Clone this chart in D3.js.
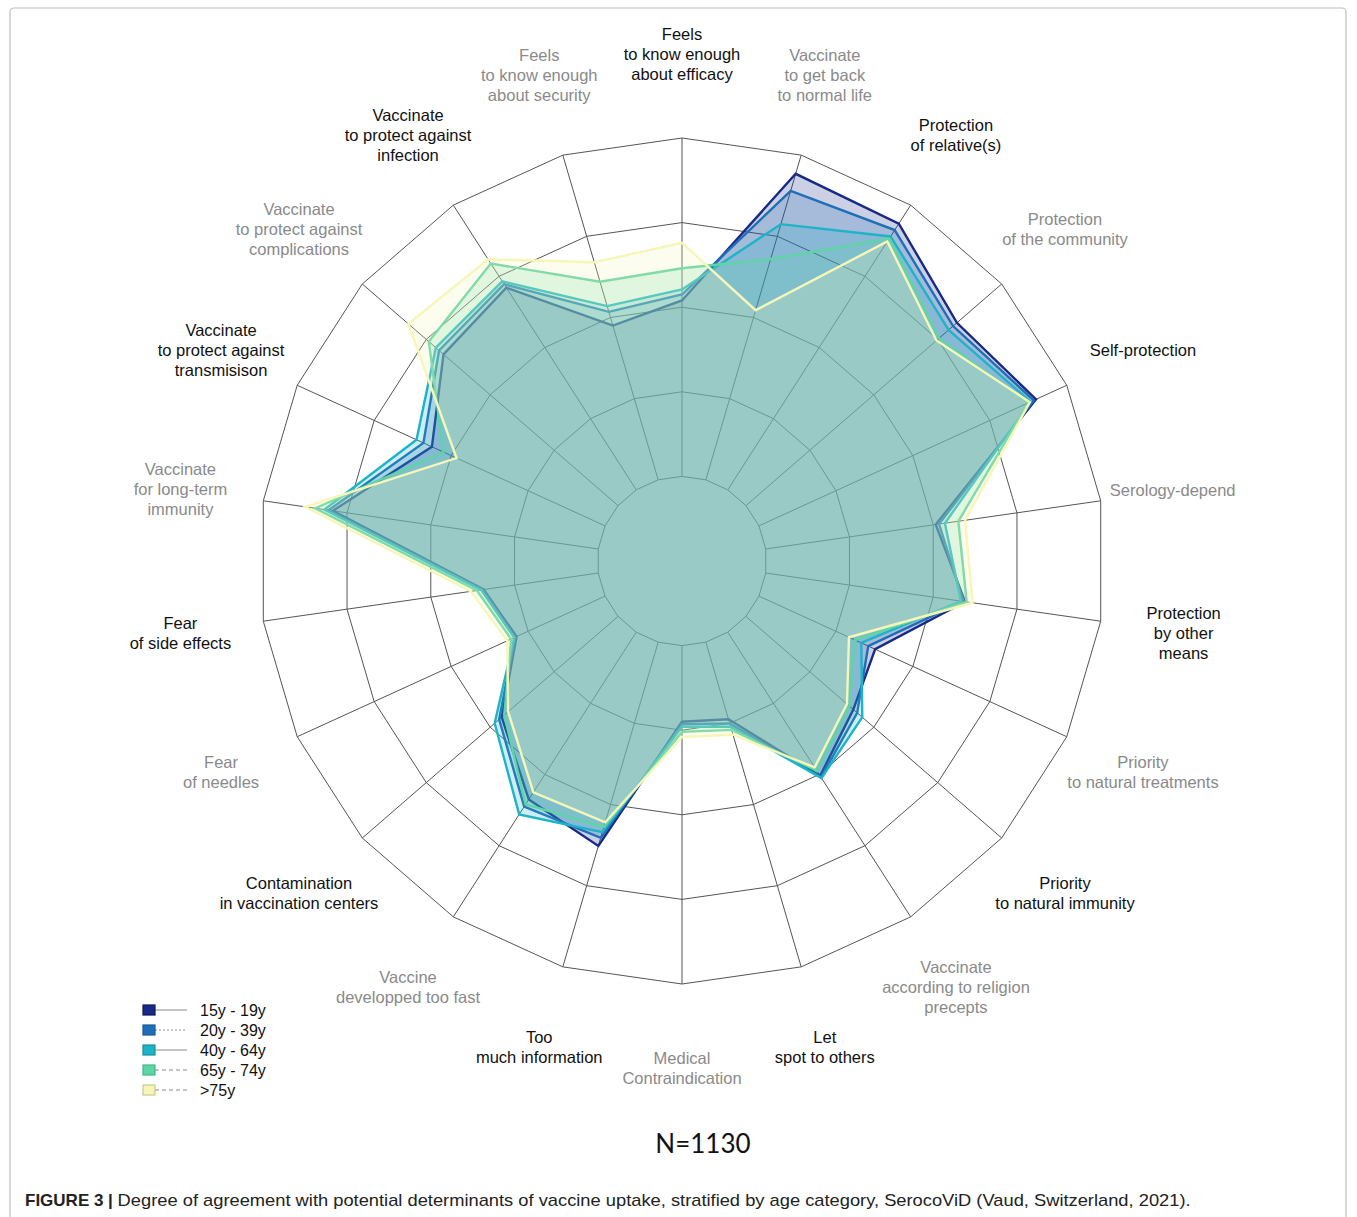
<!DOCTYPE html>
<html lang="en">
<head>
<meta charset="utf-8">
<title>Vaccine uptake determinants by age</title>
<script src="https://d3js.org/d3.v7.min.js"></script>
<style>
  body { margin: 0; background: #fff; }
  svg { display: block; }
  text { font-family: "Liberation Sans", Arial, sans-serif; }
</style>
</head>
<body>
<script>
// axis labels, clockwise from the top
var axes = [
  ["Feels", "to know enough", "about efficacy"],
  ["Vaccinate", "to get back", "to normal life"],
  ["Protection", "of relative(s)"],
  ["Protection", "of the community"],
  ["Self-protection"],
  ["Serology-depend"],
  ["Protection", "by other", "means"],
  ["Priority", "to natural treatments"],
  ["Priority", "to natural immunity"],
  ["Vaccinate", "according to religion", "precepts"],
  ["Let", "spot to others"],
  ["Medical", "Contraindication"],
  ["Too", "much information"],
  ["Vaccine", "developped too fast"],
  ["Contamination", "in vaccination centers"],
  ["Fear", "of needles"],
  ["Fear", "of side effects"],
  ["Vaccinate", "for long-term", "immunity"],
  ["Vaccinate", "to protect against", "transmisison"],
  ["Vaccinate", "to protect against", "complications"],
  ["Vaccinate", "to protect against", "infection"],
  ["Feels", "to know enough", "about security"]
];

var groups = ["15y - 19y", "20y - 39y", "40y - 64y", "65y - 74y", ">75y"];
var colors = ["#182a86", "#1f6fb8", "#1fb3c8", "#5fd4a4", "#f6f6b8"];

// degree of agreement per axis (same order as axes)
var age15 = [3.08, 4.77, 4.74, 4.30, 4.60, 3.03, 3.38, 2.51, 2.68, 3.02, 1.95, 1.90, 3.51, 3.35, 2.82, 2.15, 2.37, 4.17, 3.25, 3.73, 3.84, 2.90];
var age20 = [3.15, 4.56, 4.65, 4.24, 4.57, 3.07, 3.36, 2.42, 2.74, 3.04, 2.00, 1.93, 3.41, 3.45, 2.86, 2.17, 2.38, 4.22, 3.36, 3.80, 3.89, 3.07];
var age40 = [3.21, 4.15, 4.56, 4.17, 4.53, 3.14, 3.33, 2.33, 2.82, 3.05, 2.04, 1.96, 3.34, 3.56, 2.93, 2.18, 2.40, 4.27, 3.45, 3.85, 3.93, 3.14];
var age65 = [3.46, 3.72, 4.53, 4.02, 4.50, 3.30, 3.40, 2.25, 2.62, 2.95, 2.08, 2.02, 3.28, 3.42, 2.78, 2.22, 2.45, 4.38, 3.10, 3.96, 4.18, 3.44];
var age75 = [3.76, 3.09, 4.49, 3.98, 4.52, 3.38, 3.47, 2.17, 2.58, 2.90, 2.14, 2.08, 3.22, 3.25, 2.72, 2.27, 2.52, 4.50, 2.93, 4.28, 4.24, 3.68];
var series = [age15, age20, age40, age65, age75];

var levels = [1, 2, 3, 4, 5];

var width = 1357, height = 1217;
var cx = 682, cy = 561;

var svg = d3.select("body").append("svg")
  .attr("width", width)
  .attr("height", height);

// frame
svg.append("rect")
  .attr("x", 10).attr("y", 8)
  .attr("width", 1336).attr("height", 1240)
  .attr("rx", 4)
  .attr("fill", "none")
  .attr("stroke", "#bdbdbd")
  .attr("stroke-width", 1.2);

var g = svg.append("g").attr("transform", "translate(" + cx + "," + cy + ")");

var r = d3.scaleLinear().domain([0, 5]).range([0, 423]);
var angle = d3.scalePoint().domain(d3.range(axes.length + 1)).range([0, 2 * Math.PI]);

function pt(i, v) {
  var a = angle(i);
  return [r(v) * Math.sin(a), -r(v) * Math.cos(a)];
}

// grid rings
g.selectAll(".ring")
  .data(levels)
  .enter().append("polygon")
  .attr("class", "ring")
  .attr("points", function(l) {
    return axes.map(function(d, i) { return pt(i, l).join(","); }).join(" ");
  })
  .attr("fill", "none")
  .attr("stroke", "#555")
  .attr("stroke-width", 1);

// spokes
g.selectAll(".spoke")
  .data(axes)
  .enter().append("line")
  .attr("class", "spoke")
  .attr("x1", function(d, i) { return pt(i, levels[0])[0]; })
  .attr("y1", function(d, i) { return pt(i, levels[0])[1]; })
  .attr("x2", function(d, i) { return pt(i, 5)[0]; })
  .attr("y2", function(d, i) { return pt(i, 5)[1]; })
  .attr("stroke", "#555")
  .attr("stroke-width", 1);

// series polygons
var line = d3.lineRadial()
  .angle(function(d, i) { return angle(i); })
  .radius(function(d) { return r(d); })
  .curve(d3.curveLinearClosed);

g.selectAll(".series")
  .data(series)
  .enter().append("path")
  .attr("class", "series")
  .attr("d", line)
  .attr("fill", function(d, i) { return colors[i]; })
  .attr("fill-opacity", 0.22)
  .attr("stroke", function(d, i) { return colors[i]; })
  .attr("stroke-width", 2.4)
  .attr("stroke-linejoin", "miter");

// axis labels
var lab = g.selectAll(".lab")
  .data(axes)
  .enter().append("text")
  .attr("class", "lab")
  .attr("text-anchor", "middle")
  .attr("font-size", 16.5)
  .attr("fill", function(d, i) { return i % 2 === 0 ? "#111" : "#8a8a8a"; })
  .attr("transform", function(d, i) {
    var p = pt(i, i === 5 ? 5.86 : 5.99);
    return "translate(" + p[0] + "," + p[1] + ")";
  });

lab.selectAll("tspan")
  .data(function(d) { return d.map(function(s, k) { return { s: s, k: k, n: d.length }; }); })
  .enter().append("tspan")
  .attr("x", 0)
  .attr("y", function(d) { return (d.k - (d.n - 1) / 2) * 20 + 6; })
  .text(function(d) { return d.s; });

// legend
var leg = svg.append("g").attr("transform", "translate(143,1010)");
var dashes = [null, "2,2", null, "4,3", "4,3"];
var borders = ["#0c165e", "#155a9c", "#1590a4", "#3fb888", "#c8c890"];

var item = leg.selectAll(".item")
  .data(groups)
  .enter().append("g")
  .attr("transform", function(d, i) { return "translate(0," + i * 20 + ")"; });

item.append("line")
  .attr("x1", 12).attr("x2", 44)
  .attr("y1", 0).attr("y2", 0)
  .attr("stroke", "#8a8a8a")
  .attr("stroke-width", 1)
  .attr("stroke-dasharray", function(d, i) { return dashes[i]; });

item.append("rect")
  .attr("x", 0).attr("y", -5)
  .attr("width", 12).attr("height", 10)
  .attr("fill", function(d, i) { return colors[i]; })
  .attr("stroke", function(d, i) { return borders[i]; })
  .attr("stroke-width", 1.2);

item.append("text")
  .attr("x", 57).attr("y", 6)
  .attr("font-size", 16)
  .attr("fill", "#111")
  .text(function(d) { return d; });

// sample size
svg.append("text")
  .attr("x", 703).attr("y", 1153)
  .attr("text-anchor", "middle")
  .attr("font-size", 26)
  .style("font-family", "Lato, 'Open Sans', sans-serif")
  .attr("fill", "#111")
  .text("N=1130");

// caption
var cap = svg.append("text")
  .attr("x", 25).attr("y", 1206)
  .attr("font-size", 17)
  .attr("fill", "#222");
cap.append("tspan").attr("font-weight", "bold").text("FIGURE 3 | ");
cap.append("tspan")
  .attr("textLength", 1073)
  .attr("lengthAdjust", "spacingAndGlyphs")
  .text("Degree of agreement with potential determinants of vaccine uptake, stratified by age category, SerocoViD (Vaud, Switzerland, 2021).");
</script>
</body>
</html>
